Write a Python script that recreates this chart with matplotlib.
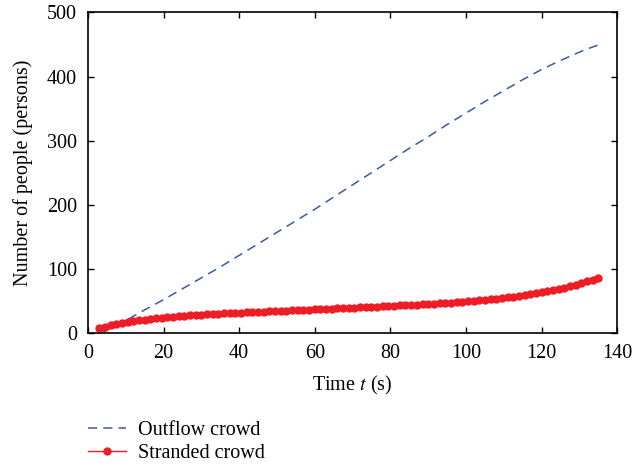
import matplotlib
matplotlib.use("Agg")
import matplotlib.pyplot as plt

# Outflow crowd (dashed blue)
t_out = [3.5, 6, 8, 10, 12, 15, 20, 25, 30, 35, 40, 45, 50, 55, 60, 65, 70,
         75, 80, 85, 90, 95, 100, 105, 110, 115, 120, 125, 130, 133, 136]
outflow = [0, 7, 13, 19.5, 26, 36, 52, 69, 86, 103, 121, 139, 157, 175, 193,
           212, 231, 250, 269, 288, 306, 325, 343, 361, 378, 395, 411, 425,
           438, 445, 451]

# Stranded crowd (red markers)
t_str = [3, 4.5, 6, 7.5, 9, 10.5, 12, 13.5, 15, 16.5, 18, 19.5, 21, 22.5, 24,
         25.5, 27, 28.5, 30, 31.5, 33, 34.5, 36, 37.5, 39, 40.5, 42, 43.5, 45,
         46.5, 48, 49.5, 51, 52.5, 54, 55.5, 57, 58.5, 60, 61.5, 63, 64.5, 66,
         67.5, 69, 70.5, 72, 73.5, 75, 76.5, 78, 79.5, 81, 82.5, 84, 85.5, 87,
         88.5, 90, 91.5, 93, 94.5, 96, 97.5, 99, 100.5, 102, 103.5, 105, 106.5,
         108, 109.5, 111, 112.5, 114, 115.5, 117, 118.5, 120, 121.5, 123, 124.5,
         126, 127.5, 129, 130.5, 132, 133.5, 135]
stranded = [7, 10, 12.5, 14.5, 16, 17.5, 18.8, 20, 21, 22, 23, 24, 24.8, 25.5,
            26.2, 26.8, 27.4, 28, 28.5, 29, 29.5, 30, 30.4, 30.8, 31.2, 31.6, 32,
            32.4, 32.8, 33.2, 33.6, 34, 34.4, 34.8, 35.2, 35.6, 36, 36.4, 36.8,
            37.2, 37.6, 38, 38.4, 38.8, 39.2, 39.6, 40, 40.4, 40.8, 41.2, 41.6,
            42, 42.5, 43, 43.4, 43.8, 44.3, 44.8, 45.3, 45.8, 46.3, 46.9, 47.5,
            48.1, 48.8, 49.5, 50.2, 51, 51.8, 52.6, 53.5, 54.5, 55.5, 56.6, 57.8,
            59, 60.3, 61.7, 63.2, 64.8, 66.5, 68.4, 70.4, 72.6, 75, 77.6, 80.4,
            83.4, 86.5]

plt.rcParams['font.family'] = ['Liberation Serif', 'DejaVu Serif']
plt.rcParams['mathtext.fontset'] = 'stix'

fig = plt.figure(figsize=(6.33, 4.68), dpi=100)
ax = fig.add_axes([0.139, 0.2885, 0.836, 0.685])

ax.plot(t_out, outflow, color="#3a5aa8", linestyle=(0, (6, 4)), linewidth=1.1,
        label="Outflow crowd")
ax.plot(t_str, stranded, color="#ee1c25", marker="o", markersize=5,
        linewidth=1.0, label="Stranded crowd")

ax.set_xlim(0, 140)
ax.set_ylim(0, 500)
ax.set_xticks(range(0, 141, 20))
ax.set_yticks(range(0, 501, 100))
ax.tick_params(direction="in", top=True, right=True, length=4, width=1,
               labelsize=14.5, pad=8)
for s in ax.spines.values():
    s.set_linewidth(1.2)

ax.set_xlabel("Time $t$ (s)", fontsize=14.5, labelpad=8)
ax.set_ylabel("Number of people (persons)", fontsize=14.5, labelpad=10)

handles, labels = ax.get_legend_handles_labels()
fig.legend(handles, labels, loc="upper left", bbox_to_anchor=(0.11, 0.14),
           frameon=False, fontsize=14.5, handlelength=1.9, handletextpad=0.6,
           labelspacing=0.2)

fig.savefig("out.png", dpi=100)
